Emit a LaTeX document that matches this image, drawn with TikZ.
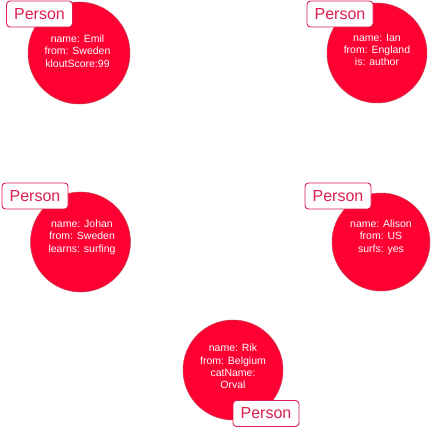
\documentclass[tikz,border=0pt]{standalone}
\usepackage{fontspec}
\setmainfont{Liberation Sans}
\definecolor{nodered}{HTML}{FF0033}
\definecolor{nodeedge}{HTML}{C8404F}
\definecolor{tagred}{HTML}{DC1E50}
\begin{document}
\begin{tikzpicture}[x=1pt,y=-1pt,
  person/.style={circle,fill=nodered,draw=nodeedge,line width=0.5pt,inner sep=0pt},
  props/.style={text=white,align=center,font=\fontsize{10.5}{12.4}\selectfont,inner sep=0pt},
  tag/.style={draw=tagred,fill=white,text=tagred,rounded corners=3.5pt,line width=0.9pt,
    minimum width=66pt,minimum height=26pt,inner sep=0pt,font=\fontsize{16}{18}\selectfont}]
  \useasboundingbox (0,0) rectangle (432,428);
  % Emil
  \node[person,minimum size=102pt] (emil) at (79,53) {};
  \node[props] (emilp) at (77.5,51) {name: Emil\\from: Sweden\\kloutScore:99};
  \node[tag] (emilt) at (39.5,14) {Person};
  % Ian
  \node[person,minimum size=100pt] (ian) at (377,53) {};
  \node[props] (ianp) at (377,50) {name: Ian\\from: England\\is: author};
  \node[tag] (iant) at (340,14) {Person};
  % Johan
  \node[person,minimum size=100pt] (johan) at (80.5,242) {};
  \node[props] (johanp) at (82,237) {name: Johan\\from: Sweden\\learns: surfing};
  \node[tag] (johant) at (35,196) {Person};
  % Alison
  \node[person,minimum size=98pt] (alison) at (381,242) {};
  \node[props] (alisonp) at (381,237) {name: Alison\\from: US\\surfs: yes};
  \node[tag] (alisont) at (338,196) {Person};
  % Rik
  \node[person,minimum size=100pt] (rik) at (233,370) {};
  \node[props] (rikp) at (233,366.5) {name: Rik\\from: Belgium\\catName:\\Orval};
  \node[tag] (rikt) at (266,413.5) {Person};
\end{tikzpicture}
\end{document}
